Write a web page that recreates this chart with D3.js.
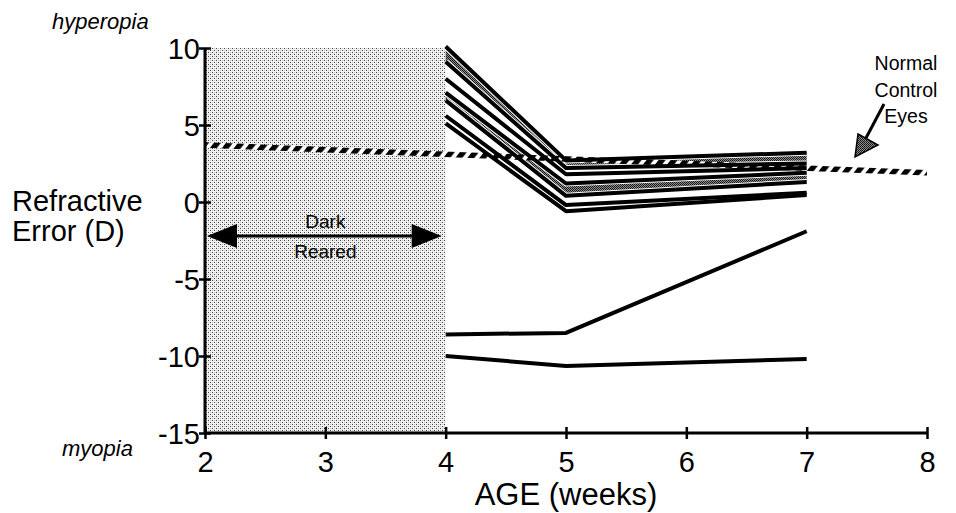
<!DOCTYPE html>
<html>
<head>
<meta charset="utf-8">
<script src="https://cdn.jsdelivr.net/npm/d3@7/dist/d3.min.js"></script>
<style>
  html, body { margin: 0; padding: 0; background: #fff; }
  svg { display: block; }
  text { font-family: "Liberation Sans", Arial, Helvetica, sans-serif; fill: #000; }
</style>
</head>
<body>
<svg id="chart" width="956" height="513"></svg>
<script>
// Refractive error (dioptres) of individual eyes after dark rearing, by age in weeks
const ageWeeks = [4, 5, 7];
const eye1 = [10.1, 2.7, 3.2];
const eye2 = [9.1, 2.2, 2.5];
const eye3 = [8.0, 1.8, 2.2];
const eye4 = [7.1, 1.2, 1.9];
const eye5 = [6.6, 0.4, 1.3];
const eye6 = [5.6, -0.2, 0.6];
const eye7 = [5.1, -0.6, 0.45];
const myopicEye1 = [-8.6, -8.5, -1.9];
const myopicEye2 = [-10.0, -10.65, -10.2];

// Normal control eyes (trend line)
const controlAge = [2, 8];
const controlRefraction = [3.7, 1.9];

// Dark-rearing period
const darkPeriod = [2, 4];
const darkArrowLevel = -2.2;

// Axis ticks
const xTicks = [2, 3, 4, 5, 6, 7, 8];
const yTicks = [-15, -10, -5, 0, 5, 10];

const svg = d3.select("#chart");
const x = d3.scaleLinear().domain([2, 8]).range([205, 927]);
const y = d3.scaleLinear().domain([-15, 10]).range([433, 48]);

// ---- patterns ----
const defs = svg.append("defs");
const light = defs.append("pattern").attr("id", "stipple")
  .attr("patternUnits", "userSpaceOnUse").attr("width", 4).attr("height", 4);
light.append("rect").attr("width", 4).attr("height", 4).attr("fill", "#f2f2f2");
[[0,0],[2,2]].forEach(([px,py]) =>
  light.append("rect").attr("x", px).attr("y", py).attr("width", 1).attr("height", 1).attr("fill", "#444"));
[[2,0],[0,2]].forEach(([px,py]) =>
  light.append("rect").attr("x", px).attr("y", py).attr("width", 1).attr("height", 1).attr("fill", "#c4c4c4"));

const dense = defs.append("pattern").attr("id", "stippleDark")
  .attr("patternUnits", "userSpaceOnUse").attr("width", 2).attr("height", 2);
dense.append("rect").attr("width", 2).attr("height", 2).attr("fill", "#8a8a8a");
dense.append("rect").attr("width", 1).attr("height", 1).attr("fill", "#111");
dense.append("rect").attr("x", 1).attr("y", 1).attr("width", 1).attr("height", 1).attr("fill", "#222");

const hatch = defs.append("pattern").attr("id", "hatch")
  .attr("patternUnits", "userSpaceOnUse").attr("width", 9.5).attr("height", 9.5)
  .attr("patternTransform", "rotate(38)");
hatch.append("rect").attr("width", 9.5).attr("height", 9.5).attr("fill", "#fff");
hatch.append("rect").attr("width", 5.5).attr("height", 9.5).attr("fill", "#000");

// ---- dark-reared shading ----
svg.append("rect")
  .attr("x", x(darkPeriod[0])).attr("y", y(10))
  .attr("width", x(darkPeriod[1]) - x(darkPeriod[0]))
  .attr("height", y(-15) - y(10))
  .attr("fill", "url(#stipple)");

// ---- individual eyes: stippled bands and white casings ----
const pts = vals => ageWeeks.map((a, i) => [a, vals[i]]);
const band = (upper, lower) => d3.area()
  .x((d, i) => x(ageWeeks[i]))
  .y0((d, i) => y(lower[i]))
  .y1((d, i) => y(upper[i]))(ageWeeks);

svg.append("path").attr("d", band(eye1, eye2)).attr("fill", "url(#stippleDark)");
svg.append("path").attr("d", band(eye4, eye5)).attr("fill", "url(#stippleDark)");

const eyeLine = d3.line().x(d => x(d[0])).y(d => y(d[1]));
const upperEyes = [eye1, eye2, eye3, eye4, eye5, eye6, eye7];
const lowerEyes = [myopicEye1, myopicEye2];

const eyesG = svg.append("g");
upperEyes.forEach(v => {
  eyesG.append("path").attr("d", eyeLine(pts(v)))
    .attr("fill", "none").attr("stroke", "#fff").attr("stroke-width", 6);
});

// ---- normal control trend ----
const controlLine = d3.line().x(d => x(d[0])).y(d => y(d[1]));
const controlPts = controlAge.map((a, i) => [a, controlRefraction[i]]);
svg.append("path").attr("d", controlLine(controlPts))
  .attr("fill", "none").attr("stroke", "url(#hatch)").attr("stroke-width", 5.5);

// ---- individual eyes: lines ----
const linesG = svg.append("g");
upperEyes.concat(lowerEyes).forEach(v => {
  linesG.append("path").attr("d", eyeLine(pts(v)))
    .attr("fill", "none").attr("stroke", "#000").attr("stroke-width", 4)
    .attr("stroke-linejoin", "round");
});

// ---- axes ----
const fmt = d => String(d);
const xAxis = svg.append("g").attr("transform", `translate(0,${y(-15)})`)
  .call(d3.axisBottom(x).tickValues(xTicks).tickSize(6).tickPadding(12).tickFormat(fmt));
const yAxis = svg.append("g").attr("transform", `translate(${x(2)},0)`)
  .call(d3.axisLeft(y).tickValues(yTicks).tickSize(6).tickPadding(4).tickFormat(fmt));

[xAxis, yAxis].forEach(g => {
  g.select(".domain").attr("stroke", "#000").attr("stroke-width", 3);
  g.selectAll(".tick line").attr("stroke", "#000").attr("stroke-width", 2.5);
  g.selectAll(".tick text").attr("font-size", 29).attr("font-family", "Liberation Sans, Arial, sans-serif");
});
xAxis.select(".domain").attr("d", `M${x(2)},0H${x(8)}`);
yAxis.select(".domain").attr("d", `M0,${y(-15)}V${y(10)}`);
xAxis.selectAll(".tick line").attr("y1", -6).attr("y2", 6);
yAxis.selectAll(".tick line").attr("x1", -6).attr("x2", 6);
yAxis.selectAll(".tick text").attr("x", -5).attr("dy", "0.36em");

// ---- dark-reared arrow ----
const ay = y(darkArrowLevel);
const ax0 = x(darkPeriod[0]) + 2, ax1 = x(darkPeriod[1]) - 4;
svg.append("line").attr("x1", ax0 + 20).attr("x2", ax1 - 20).attr("y1", ay).attr("y2", ay)
  .attr("stroke", "#000").attr("stroke-width", 3);
svg.append("path").attr("d", `M${ax0},${ay}L${ax0 + 30},${ay - 12}L${ax0 + 30},${ay + 12}Z`).attr("fill", "#000");
svg.append("path").attr("d", `M${ax1},${ay}L${ax1 - 30},${ay - 12}L${ax1 - 30},${ay + 12}Z`).attr("fill", "#000");
const midX = (x(darkPeriod[0]) + x(darkPeriod[1])) / 2;
svg.append("text").attr("x", midX).attr("y", ay - 8).attr("text-anchor", "middle").attr("font-size", 19).text("Dark");
svg.append("text").attr("x", midX).attr("y", ay + 22).attr("text-anchor", "middle").attr("font-size", 19).text("Reared");

// ---- normal control annotation ----
const ann = svg.append("g");
["Normal", "Control", "Eyes"].forEach((t, i) => {
  ann.append("text").attr("x", 906).attr("y", 70 + i * 26.5)
    .attr("text-anchor", "middle").attr("font-size", 19.5).text(t);
});
const tipX = 855, tipY = 157;
ann.append("line").attr("x1", 884).attr("y1", 104).attr("x2", 866).attr("y2", 138)
  .attr("stroke", "#000").attr("stroke-width", 3);
ann.append("path").attr("d", `M${tipX},${tipY}L${858},${134}L${878},${145}Z`)
  .attr("fill", "url(#stippleDark)").attr("stroke", "#000").attr("stroke-width", 1.5);

// ---- axis titles ----
svg.append("text").attr("x", 12).attr("y", 211).attr("font-size", 29).text("Refractive");
svg.append("text").attr("x", 12).attr("y", 241).attr("font-size", 29).text("Error (D)");
svg.append("text").attr("x", 566).attr("y", 505).attr("text-anchor", "middle").attr("font-size", 31).text("AGE (weeks)");
svg.append("text").attr("x", 52).attr("y", 29).attr("font-size", 22).attr("font-style", "italic").text("hyperopia");
svg.append("text").attr("x", 62).attr("y", 456).attr("font-size", 22).attr("font-style", "italic").text("myopia");
</script>
</body>
</html>
